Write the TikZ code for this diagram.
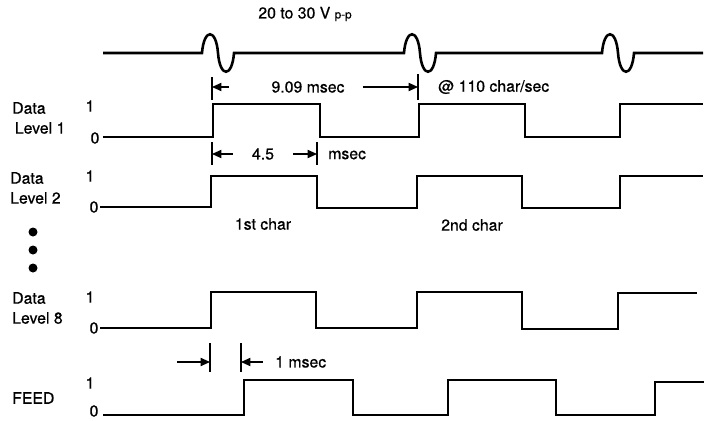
\documentclass[tikz,border=0pt]{standalone}
\usepackage{fontspec}
\setmainfont{TeX Gyre Heros}[FakeBold=0.6]
\usetikzlibrary{arrows.meta, positioning, calc}

\begin{document}
\begin{tikzpicture}[x=0.03cm, y=-0.03cm, >={Triangle[length=8pt,width=7pt]},
    wave/.style={line width=2.2pt, line join=miter},
    tick/.style={line width=1.1pt},
    dimarrow/.style={line width=1.1pt, ->},
    lbl/.style={font=\fontsize{13.5}{17}\selectfont, inner sep=0pt},
    side/.style={lbl, align=left, anchor=west}]

\useasboundingbox (0,0) rectangle (704,420);

% =========================================================
%  Sprocket (clock) pulses
% =========================================================
\node[lbl] (amp) at (305,14) {20 to 30 V {\fontsize{10}{12}\selectfont p-p}};

\draw[wave] (103,53)
    \foreach \p in {202,404,602} {
        -- (\p,53) .. controls (\p+2,28) and (\p+14,28) .. (\p+16,53)
        .. controls (\p+18,78) and (\p+30,78) .. (\p+32,53)
    } -- (703,53);

% period between pulses
\coordinate (pa) at (212,87);
\coordinate (pb) at (418,87);
\draw[tick] ($(pa)+(0,-10)$) -- ($(pa)+(0,13)$);
\draw[tick] ($(pb)+(0,-13)$) -- ($(pb)+(0,13)$);
\node[lbl] (per) at (308,87) {9.09 msec};
\draw[dimarrow] ($(pa)+(17,0)$) -- (pa);
\draw[dimarrow] ($(per.east)+(18,0)$) -- (pb);
\node[lbl, anchor=west] (rate) at (438,87) {@ 110 char/sec};

% =========================================================
%  Data levels
% =========================================================
% --- Level 1 ---
\node[side] (d1) at (12,118) {Data\\\,Level 1};
\node[lbl] (d1hi) at (90,106) {1};
\node[lbl] (d1lo) at (95,138) {0};
\draw[wave] (103,137) -- (213,137) -- (213,104) -- (320,104) -- (320,137)
    -- (419,137) -- (419,104) -- (525,104) -- (525,137)
    -- (620,137) -- (620,104) -- (703,104);

% half period
\coordinate (ha) at (212,154);
\coordinate (hb) at (317,154);
\draw[tick] ($(ha)+(0,-12)$) -- ($(ha)+(0,11)$);
\draw[tick] ($(hb)+(0,-12)$) -- ($(hb)+(0,11)$);
\node[lbl] (half) at (263,154) {4.5};
\draw[dimarrow] ($(ha)+(21,0)$) -- (ha);
\draw[dimarrow] ($(hb)+(-24,0)$) -- (hb);
\node[lbl, anchor=west] (hunit) at (328,155) {msec};

% --- Level 2 ---
\node[side] (d2) at (10,188) {Data\\Level 2};
\node[lbl] (d2hi) at (90,176) {1};
\node[lbl] (d2lo) at (94,207) {0};
\draw[wave] (100,207) -- (211,207) -- (211,176) -- (317,176) -- (317,208)
    -- (417,208) -- (417,176) -- (522,176) -- (522,208)
    -- (620,208) -- (620,176) -- (703,176);

\node[lbl] (c1) at (263,224) {1st char};
\node[lbl] (c2) at (472,225) {2nd char};

% dots for levels 3 .. 7
\foreach \y in {232,250,268}
    \fill (33,\y) circle (4.5);

% --- Level 8 ---
\node[side] (d8) at (12,308) {Data\\Level 8};
\node[lbl] (d8hi) at (90,297) {1};
\node[lbl] (d8lo) at (94,328) {0};
\draw[wave] (100,328) -- (211,328) -- (211,292) -- (316,292) -- (316,328)
    -- (417,328) -- (417,292) -- (522,292) -- (522,329)
    -- (618,329) -- (618,293) -- (697,293);

% feed delay
\coordinate (fa) at (210,362);
\coordinate (fb) at (241,362);
\draw[tick] ($(fa)+(0,-19)$) -- ($(fa)+(0,10)$);
\draw[tick] ($(fb)+(0,-19)$) -- ($(fb)+(0,10)$);
\draw[dimarrow] ($(fa)+(-33,0)$) -- (fa);
\draw[dimarrow] ($(fb)+(22,0)$) -- (fb);
\node[lbl, anchor=west] (fdel) at (275,362) {1 msec};

% =========================================================
%  FEED
% =========================================================
\node[lbl, anchor=west] (feed) at (12,398) {FEED};
\node[lbl] (fhi) at (90,383) {1};
\node[lbl] (flo) at (94,411) {0};
\draw[wave] (103,415) -- (244,415) -- (244,380) -- (353,380) -- (353,415)
    -- (448,415) -- (448,380) -- (556,380) -- (556,415)
    -- (655,415) -- (655,382) -- (704,382);

\end{tikzpicture}
\end{document}
